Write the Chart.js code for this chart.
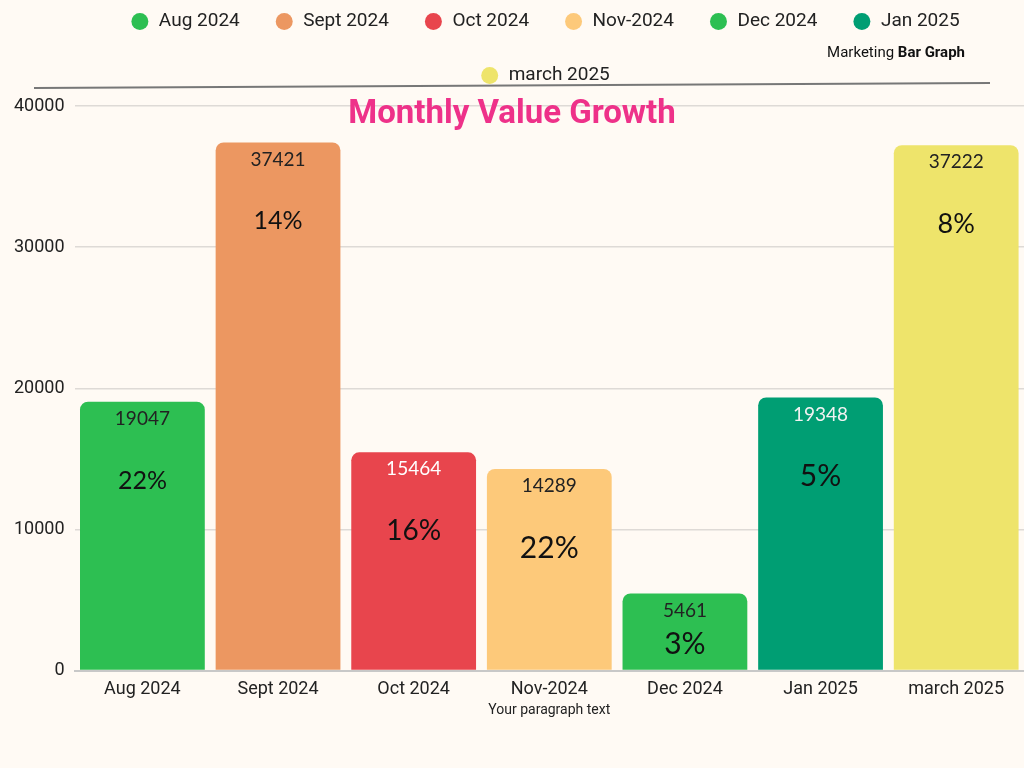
<!DOCTYPE html>
<html>
<head>
<meta charset="utf-8">
<title>Monthly Value Growth</title>
<script src="https://cdn.jsdelivr.net/npm/chart.js@4.4.1/dist/chart.umd.min.js"></script>
<style>
  html, body { margin: 0; padding: 0; background: #FFFAF4; }
  #wrap { position: relative; width: 1024px; height: 768px; overflow: hidden; }
  #chart { position: absolute; left: 0; top: 0; }
  .title { position: absolute; left: 0; top: 92px; width: 1024px; text-align: center; line-height: 40px; }
  .title span { display: inline-block; font: bold 33px Roboto, sans-serif; color: #EE3189; }
  .tag { position: absolute; right: 59px; top: 43px; font: 15px Roboto, sans-serif; color: #111; line-height: 18px; }
  .tag b { font-weight: bold; }
  svg.rule { position: absolute; left: 0; top: 0; }
</style>
</head>
<body>
<div id="wrap">
  <canvas id="chart" width="1024" height="768"></canvas>
  <svg class="rule" width="1024" height="120"><line x1="34" y1="88" x2="990" y2="83" stroke="#777" stroke-width="2"/></svg>
  <div class="tag">Marketing <b>Bar Graph</b></div>
  <div class="title"><span>Monthly Value Growth</span></div>
</div>
<script>
// chart data
const months = ["Aug 2024", "Sept 2024", "Oct 2024", "Nov-2024", "Dec 2024", "Jan 2025", "march 2025"];
const values = [19047, 37421, 15464, 14289, 5461, 19348, 37222];
const growth = ["22%", "14%", "16%", "22%", "3%", "5%", "8%"];
const yTicks = [0, 10000, 20000, 30000, 40000];

// look
const barColors = ["#2DBF52", "#EC9761", "#E8454D", "#FDC97A", "#2DBF52", "#009E73", "#EEE46B"];
const valueColors = ["#222", "#222", "#fff", "#222", "#222", "#f2f2f2", "#222"];
const growthSizes = [25, 25, 28, 30, 30, 30, 27];

// legend: wrap the last item to a second row, leave room under it, nudge it right
const legendTweak = {
    id: "legendTweak",
    beforeInit(chart) {
        const fit = chart.legend.fit;
        chart.legend.fit = function () {
            this.maxWidth = Math.min(this.maxWidth, 960);
            fit.call(this);
            this.height += 11;
        };
    },
    afterLayout(chart) {
        chart.legend.left += 62;
    }
};

// value and growth text inside each bar
const barText = {
    id: "barText",
    afterDatasetsDraw(chart) {
        const ctx = chart.ctx;
        const meta = chart.getDatasetMeta(0);
        ctx.save();
        ctx.textAlign = "center";
        ctx.textBaseline = "middle";
        meta.data.forEach((bar, i) => {
            const h = bar.base - bar.y;
            ctx.fillStyle = valueColors[i];
            ctx.font = "19px Lato";
            ctx.fillText(values[i], bar.x, bar.y + 17);
            ctx.fillStyle = "#111";
            ctx.font = growthSizes[i] + "px Lato";
            ctx.fillText(growth[i], bar.x, bar.y + Math.min(79, h * 0.66));
        });
        ctx.restore();
    }
};

new Chart(document.querySelector("#chart"), {
    type: "bar",
    data: {
        labels: months,
        datasets: [{
            data: values,
            backgroundColor: barColors,
            borderRadius: { topLeft: 8, topRight: 8 },
            borderSkipped: "bottom",
            barPercentage: 0.92,
            categoryPercentage: 1
        }]
    },
    options: {
        responsive: false,
        animation: false,
        layout: { padding: { top: -23, left: 4, right: 0, bottom: 49 } },
        plugins: {
            tooltip: { enabled: false },
            legend: {
                position: "top",
                onClick: () => {},
                labels: {
                    usePointStyle: true,
                    boxWidth: 19,
                    boxHeight: 12,
                    padding: 35,
                    color: "#222",
                    font: { family: "Roboto", size: 19 },
                    generateLabels: () => months.map((m, i) => ({
                        text: m,
                        fillStyle: barColors[i],
                        strokeStyle: barColors[i],
                        lineWidth: 0,
                        pointStyle: "circle",
                        fontColor: "#222",
                        hidden: false,
                        index: i
                    }))
                }
            }
        },
        scales: {
            x: {
                grid: { display: false, drawTicks: false },
                border: { color: "#c8c8c8", width: 2 },
                ticks: { color: "#222", font: { family: "Roboto", size: 18 }, padding: 8, autoSkip: false, maxRotation: 0 },
                title: { display: true, text: "Your paragraph text", color: "#222", font: { family: "Roboto", size: 14 }, padding: { top: -6, bottom: 0 } }
            },
            y: {
                min: 0,
                max: 40000,
                afterBuildTicks: axis => { axis.ticks = yTicks.map(v => ({ value: v })); },
                grid: { color: "#dedad6", lineWidth: 1.5, drawTicks: false },
                border: { display: false },
                ticks: { color: "#222", font: { family: "Roboto", size: 18 }, padding: 10, callback: v => String(v) }
            }
        }
    },
    plugins: [legendTweak, barText]
});
</script>
</body>
</html>
